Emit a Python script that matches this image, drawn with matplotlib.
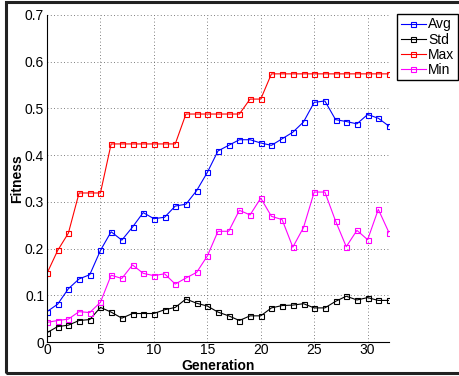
import numpy as np
import matplotlib
matplotlib.use('Agg')
import matplotlib.pyplot as plt
from matplotlib.patches import Rectangle

plt.rcParams['font.family'] = ['Liberation Sans', 'DejaVu Sans']

generation = np.arange(33)
avg_fit = [0.065, 0.081, 0.114, 0.135, 0.144, 0.196, 0.236, 0.218, 0.246, 0.277,
           0.264, 0.267, 0.291, 0.295, 0.324, 0.363, 0.409, 0.421, 0.433, 0.433,
           0.426, 0.421, 0.435, 0.449, 0.471, 0.513, 0.516, 0.476, 0.472, 0.467,
           0.487, 0.479, 0.462]
std_fit = [0.020, 0.033, 0.036, 0.046, 0.048, 0.074, 0.064, 0.051, 0.061, 0.061,
           0.061, 0.069, 0.074, 0.092, 0.083, 0.077, 0.064, 0.056, 0.046, 0.056,
           0.056, 0.073, 0.078, 0.079, 0.082, 0.073, 0.073, 0.087, 0.098, 0.090,
           0.095, 0.089, 0.089]
max_fit = [0.147, 0.196, 0.233, 0.319, 0.319, 0.319] + [0.424] * 7 + [0.488] * 6 \
    + [0.520, 0.520] + [0.574] * 12
min_fit = [0.042, 0.046, 0.049, 0.065, 0.063, 0.085, 0.143, 0.136, 0.165, 0.147,
           0.142, 0.146, 0.124, 0.137, 0.149, 0.184, 0.237, 0.237, 0.282, 0.272,
           0.308, 0.269, 0.262, 0.203, 0.245, 0.321, 0.321, 0.259, 0.204, 0.239,
           0.219, 0.284, 0.234]

fig = plt.figure(figsize=(4.59, 3.76), dpi=100)
ax = fig.add_axes([47/459, 34/376, 342/459, 327/376])

mk = dict(marker='s', markersize=3.6, markerfacecolor='none', linewidth=0.8,
          markeredgewidth=0.8)
ax.plot(generation, avg_fit, color='#0000ff', label='Avg', **mk)
ax.plot(generation, std_fit, color='black', label='Std', **mk)
ax.plot(generation, max_fit, color='#ff0000', label='Max', **mk)
ax.plot(generation, min_fit, color='#ff00ff', label='Min', **mk)

ax.set_xlim(0, 32)
ax.set_ylim(0, 0.7)
ax.set_xticks([0, 5, 10, 15, 20, 25, 30])
ax.set_yticks([0, 0.1, 0.2, 0.3, 0.4, 0.5, 0.6, 0.7])
ax.set_yticklabels(['0', '0.1', '0.2', '0.3', '0.4', '0.5', '0.6', '0.7'])
ax.grid(True, linestyle=(0, (1, 3)), color='#555555', linewidth=0.6)
ax.spines['top'].set_visible(False)
ax.spines['right'].set_visible(False)
ax.tick_params(direction='in', length=0, labelsize=10, pad=2)
ax.tick_params(axis='x', pad=1)
ax.set_xlabel('Generation', fontsize=10, fontweight='bold')
ax.xaxis.set_label_coords(0.5, -0.052)
ax.set_ylabel('Fitness', fontsize=10, fontweight='bold')
ax.yaxis.set_label_coords(-0.067, 0.5)

fig.legend(loc='upper right', bbox_to_anchor=(458/459, 1 - 14/376),
           fontsize=10, labelspacing=0.08, handletextpad=0.2, handlelength=1.8,
           borderpad=0.25, borderaxespad=0, fancybox=False, edgecolor='black',
           framealpha=1)

fig.patches.append(Rectangle((6/459, 3/376), 460/459, 371/376, transform=fig.transFigure,
                             fill=False, edgecolor='#222222', linewidth=2.2))

fig.savefig('out.png', dpi=100)
